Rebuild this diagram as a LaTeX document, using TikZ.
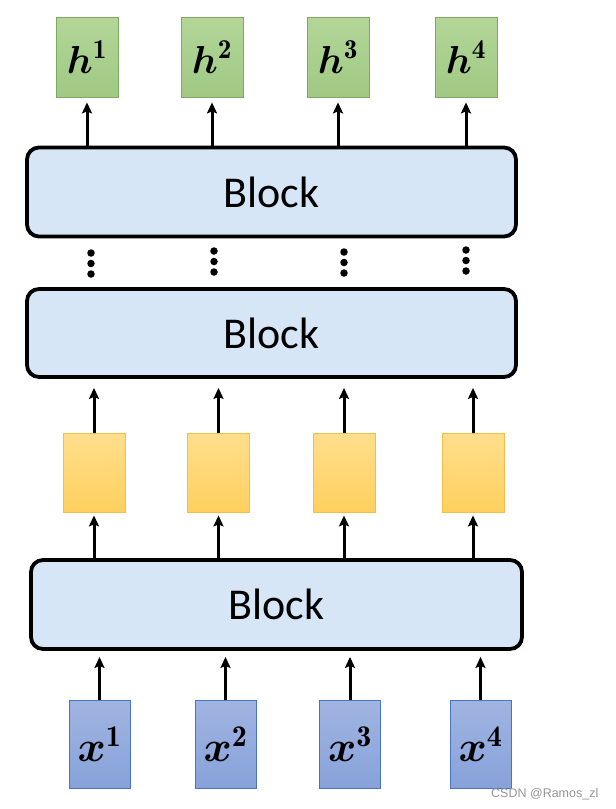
\documentclass[tikz,border=0pt]{standalone}
\usepackage{fix-cm}
\usepackage{amsmath,bm}
\usepackage{fontspec}
\newfontfamily\blockfont{Carlito}
\newfontfamily\wmfont{Liberation Sans}
\usetikzlibrary{arrows.meta}
\definecolor{blkfill}{RGB}{215,230,246}
\definecolor{gtop}{RGB}{178,214,152}
\definecolor{gbot}{RGB}{160,201,132}
\definecolor{gline}{RGB}{128,168,98}
\definecolor{ytop}{RGB}{255,222,140}
\definecolor{ybot}{RGB}{255,208,95}
\definecolor{yline}{RGB}{240,192,70}
\definecolor{btop}{RGB}{160,180,225}
\definecolor{bbot}{RGB}{135,162,218}
\definecolor{bline}{RGB}{75,115,195}
\tikzset{
  blockbox/.style={draw=black, line width=3.8pt, rounded corners=12pt, fill=blkfill,
    minimum width=489pt, minimum height=89pt, inner sep=0pt,
    font=\blockfont\fontsize{44}{48}\selectfont},
  hbox/.style={draw=gline, line width=0.8pt, top color=gtop, bottom color=gbot,
    minimum width=62pt, minimum height=80pt, inner sep=0pt,
    font=\fontsize{39}{42}\selectfont},
  ybox/.style={draw=yline, line width=0.8pt, top color=ytop, bottom color=ybot,
    minimum width=62pt, minimum height=79pt, inner sep=0pt},
  xbox/.style={draw=bline, line width=0.8pt, top color=btop, bottom color=bbot,
    minimum width=61pt, minimum height=88pt, inner sep=0pt,
    font=\fontsize{43}{46}\selectfont},
  uparrow/.style={line width=3pt, -{Stealth[length=11pt,width=10pt,inset=2pt]}},
  vdot/.style={circle, fill=black, inner sep=0pt, minimum size=7.5pt}
}
\begin{document}
\begin{tikzpicture}[x=1pt,y=-1pt]
\useasboundingbox (0,0) rectangle (616,809);
% output boxes
\node[hbox] (h1) at (87,57) {$\bm{h}^{\mathbf{1}}$};
\node[hbox] (h2) at (212,57) {$\bm{h}^{\mathbf{2}}$};
\node[hbox] (h3) at (338,57) {$\bm{h}^{\mathbf{3}}$};
\node[hbox] (h4) at (466,57) {$\bm{h}^{\mathbf{4}}$};
% blocks
\node[blockbox] (b1) at (271.5,192) {Block};
\node[blockbox, minimum height=88pt] (b2) at (271.5,333) {Block};
\node[blockbox, minimum width=491pt] (b3) at (276.5,604.5) {Block};
% yellow boxes
\node[ybox] (y1) at (94,472.5) {};
\node[ybox] (y2) at (218.5,472.5) {};
\node[ybox] (y3) at (344,472.5) {};
\node[ybox] (y4) at (473,472.5) {};
% input boxes
\node[xbox] (x1) at (99.5,744) {$\bm{x}^{\mathbf{1}}$};
\node[xbox] (x2) at (225.5,744) {$\bm{x}^{\mathbf{2}}$};
\node[xbox] (x3) at (350,744) {$\bm{x}^{\mathbf{3}}$};
\node[xbox] (x4) at (480.5,744) {$\bm{x}^{\mathbf{4}}$};
% arrows
\foreach \i in {1,...,4}{
  \draw[uparrow, shorten >=5pt] (b1.north -| h\i.south) -- (h\i.south);
  \draw[uparrow, shorten >=9pt] (y\i.north) -- (b2.south -| y\i.north);
  \draw[uparrow, shorten >=3pt] (b3.north -| y\i.south) -- (y\i.south);
  \draw[uparrow, shorten >=6pt] (x\i.north) -- (b3.south -| x\i.north);
}
% dots
\foreach \xx/\yy [count=\k] in {91/253,214/251,344/252,466/250}{
  \node[vdot] (d\k a) at (\xx,\yy) {};
  \node[vdot] (d\k b) at (\xx,\yy+10.5) {};
  \node[vdot] (d\k c) at (\xx,\yy+21) {};
}
% watermark
\node[anchor=base west, inner sep=0pt, text=black!42, font=\wmfont\fontsize{12.5}{14}\selectfont] (wm) at (491,797) {CSDN @Ramos\_zl};
\end{tikzpicture}
\end{document}
